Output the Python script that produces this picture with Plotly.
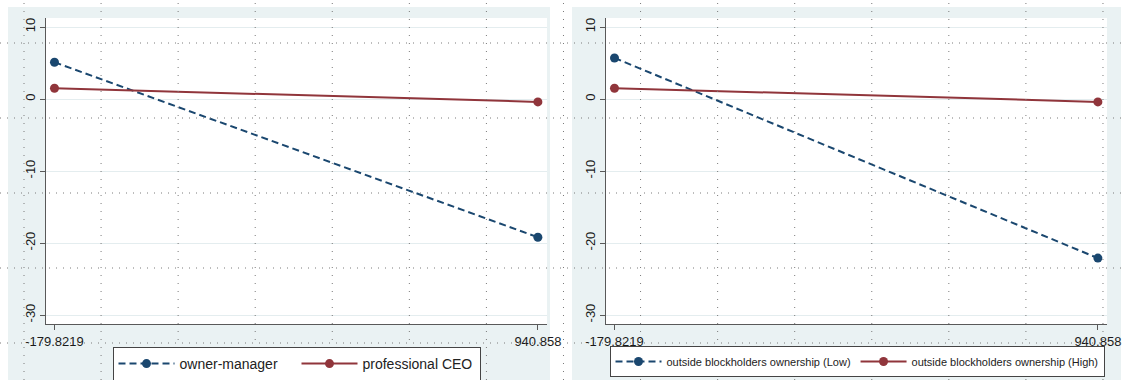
import plotly.graph_objects as go

# ---- data -------------------------------------------------------------
x_levels = [-179.8219, 940.858]
x_tick_text = ["-179.8219", "940.858"]
y_ticks = [10, 0, -10, -20, -30]
y_tick_text = ["10", "0", "-10", "-20", "-30"]

owner_manager = [5.1, -19.2]
professional_ceo = [1.5, -0.4]
blockholders_low = [5.7, -22.1]
blockholders_high = [1.5, -0.4]

# ---- styling ----------------------------------------------------------
W, H = 1126, 380
NAVY = "#1a476f"
MAROON = "#90353b"
PANEL_BG = "#eaf2f3"
AXIS = "#595959"
FONT = "Liberation Sans, Arial, sans-serif"


def fx(p):
    return p / W


def fy(p):
    return 1 - p / H


fig = go.Figure()

series = [
    ("owner-manager", owner_manager, NAVY, "7px,4px", "x", "y", "legend"),
    ("professional CEO", professional_ceo, MAROON, "solid", "x", "y", "legend"),
    ("outside blockholders ownership (Low)", blockholders_low, NAVY, "7px,4px", "x2", "y2", "legend2"),
    ("outside blockholders ownership (High)", blockholders_high, MAROON, "solid", "x2", "y2", "legend2"),
]
for name, vals, color, dash, xa, ya, lg in series:
    fig.add_trace(go.Scatter(
        x=x_levels, y=vals, name=name, mode="lines+markers",
        line=dict(color=color, width=2, dash=dash),
        marker=dict(color=color, size=9, symbol="circle"),
        xaxis=xa, yaxis=ya, legend=lg, cliponaxis=False,
    ))

x_range = [-199.5, 962.0]
y_range = [-31.25, 11.25]

xaxis_common = dict(
    range=x_range, tickmode="array", tickvals=x_levels, ticktext=x_tick_text,
    showgrid=False, zeroline=False, showline=True, linecolor=AXIS, linewidth=1.3,
    ticks="outside", ticklen=5, tickcolor=AXIS, tickwidth=1.2,
    tickfont=dict(family=FONT, size=13, color="#1a1a1a"), automargin=False,
    fixedrange=True,
)
yaxis_common = dict(
    range=y_range, tickmode="array", tickvals=y_ticks, ticktext=y_tick_text,
    tickangle=-90, showgrid=True, gridcolor="#e4edef", gridwidth=1,
    zeroline=False, showline=True, linecolor=AXIS, linewidth=1.3,
    ticks="outside", ticklen=5, tickcolor=AXIS, tickwidth=1.2,
    tickfont=dict(family=FONT, size=13, color="#1a1a1a"), automargin=False,
    domain=[fy(324), fy(18)], fixedrange=True,
)

left_plot = (46, 547)
right_plot = (606, 1107)

fig.update_layout(
    width=W, height=H,
    margin=dict(l=0, r=0, t=0, b=0, autoexpand=False),
    paper_bgcolor="white",
    plot_bgcolor="rgba(0,0,0,0)",
    font=dict(family=FONT, color="#222"),
    xaxis=dict(domain=[fx(left_plot[0]), fx(left_plot[1])], anchor="y", **xaxis_common),
    yaxis=dict(anchor="x", **yaxis_common),
    xaxis2=dict(domain=[fx(right_plot[0]), fx(right_plot[1])], anchor="y2", **xaxis_common),
    yaxis2=dict(anchor="x2", **yaxis_common),
    legend=dict(
        orientation="h", x=fx(296.5), xanchor="center", y=fy(381), yanchor="bottom",
        bgcolor="white", bordercolor="#444", borderwidth=1,
        font=dict(family=FONT, size=14, color="#222"), itemwidth=56,
        entrywidth=112, entrywidthmode="pixels",
    ),
    legend2=dict(
        orientation="h", x=fx(857), xanchor="center", y=fy(377), yanchor="bottom",
        bgcolor="white", bordercolor="#444", borderwidth=1,
        font=dict(family=FONT, size=11, color="#222"), itemwidth=46,
    ),
    showlegend=True,
)

shapes = []
# panel backgrounds and white plot regions
for (bx0, bx1), (px0, px1) in [((8, 550), left_plot), ((572, 1121), right_plot)]:
    shapes.append(dict(type="rect", xref="paper", yref="paper",
                       x0=fx(bx0), x1=fx(bx1), y0=0, y1=fy(7),
                       fillcolor=PANEL_BG, line=dict(width=0), layer="below"))
    shapes.append(dict(type="rect", xref="paper", yref="paper",
                       x0=fx(px0), x1=fx(px1), y0=fy(324), y1=fy(18),
                       fillcolor="white", line=dict(width=0), layer="below"))

# dotted page grid laid over the whole figure
for k in range(15):
    gx = 24 + 77.07 * k
    shapes.append(dict(type="line", xref="paper", yref="paper",
                       x0=fx(gx), x1=fx(gx), y0=0, y1=1,
                       line=dict(color="#7a7a7a", width=1, dash="1px,7px"), layer="above"))
for gy in [43, 118, 193, 268, 343]:
    shapes.append(dict(type="line", xref="paper", yref="paper",
                       x0=0, x1=1, y0=fy(gy), y1=fy(gy),
                       line=dict(color="#7a7a7a", width=1, dash="1px,6px"), layer="above"))

fig.update_layout(shapes=shapes)

fig.write_html("out.html")
